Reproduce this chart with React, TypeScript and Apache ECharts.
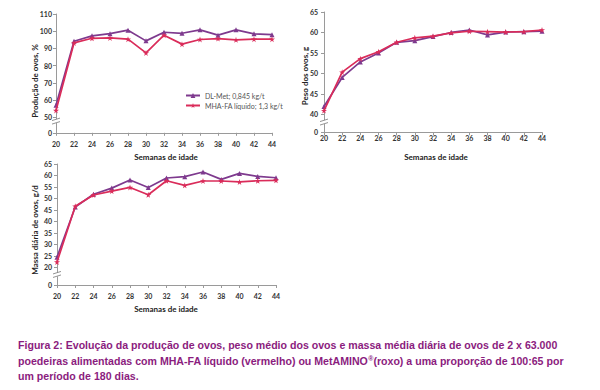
import React, { useEffect, useRef } from "react";
import * as echarts from "echarts";

const weeks = [20, 22, 24, 26, 28, 30, 32, 34, 36, 38, 40, 42, 44];
const seriesNames = ["DL-Met; 0,845 kg/t", "MHA-FA líquido; 1,3 kg/t"];

const prodDL = [57, 94.2, 97.3, 98.6, 100.6, 94.4, 99.4, 98.8, 100.8, 97.7, 100.8, 98.5, 98];
const prodMHA = [54, 93.2, 95.9, 96.1, 95.4, 87.4, 97.7, 92.5, 95.2, 95.7, 95, 95.4, 95.4];

const pesoDL = [41.9, 49.0, 52.8, 55.0, 57.6, 58.0, 59.0, 60.0, 60.6, 59.4, 60.1, 60.2, 60.3];
const pesoMHA = [40.9, 50.3, 53.6, 55.3, 57.6, 58.7, 59.1, 59.9, 60.3, 60.2, 60.1, 60.2, 60.6];

const massaDL = [24.4, 46.3, 51.8, 54.5, 58.0, 54.8, 58.9, 59.5, 61.5, 58.3, 60.9, 59.6, 59.0];
const massaMHA = [22.3, 46.6, 51.5, 53.2, 54.8, 51.6, 57.7, 55.7, 57.6, 57.6, 57.2, 57.7, 57.9];

const prodTicks = [50, 60, 70, 80, 90, 100, 110];
const pesoTicks = [40, 45, 50, 55, 60, 65];
const massaTicks = [20, 25, 30, 35, 40, 45, 50, 55, 60, 65];

const yNames = ["Produção de ovos, %", "Peso dos ovos, g", "Massa diária de ovos, g/d"];
const xName = "Semanas de idade";

const PURPLE = "#7E3A8E";
const RED = "#DA2C5A";
const FONT = "Lato";
const STAR = "path://M50,0 L61,35 L98,35 L68,57 L79,91 L50,70 L21,91 L32,57 L2,35 L39,35 Z";

export default function App() {
  const ref = useRef<HTMLDivElement>(null);
  useEffect(() => {
    if (!ref.current) return;
    const chart = echarts.init(ref.current, null, { renderer: "svg" });

    const panels = [
      { grid: { left: 56, top: 14, width: 216, height: 118.8 }, min: 41, max: 110, ticks: prodTicks, brk: 47.8, dl: prodDL, mha: prodMHA, xMargin: 8, yMargin: 4 },
      { grid: { left: 324, top: 12, width: 218, height: 120.3 }, min: 35.6, max: 65, ticks: pesoTicks, brk: 38.1, dl: pesoDL, mha: pesoMHA, xMargin: 2, yMargin: 6 },
      { grid: { left: 57, top: 164, width: 219, height: 121 }, min: 12.3, max: 65, ticks: massaTicks, brk: 16.9, dl: massaDL, mha: massaMHA, xMargin: 7, yMargin: 5 },
    ];

    const axisLine = { show: true, lineStyle: { color: "#9a9a9a", width: 1 } };
    const labelStyle = { fontFamily: FONT, fontSize: 7, fontWeight: "bold" as const, color: "#333" };

    const series: any[] = [];
    panels.forEach((p, i) => {
      series.push({
        type: "line",
        name: seriesNames[0],
        xAxisIndex: i,
        yAxisIndex: i,
        data: weeks.map((w, k) => [w, p.dl[k]]),
        symbol: "triangle",
        symbolSize: 5,
        lineStyle: { color: PURPLE, width: 1.7 },
        itemStyle: { color: PURPLE },
        z: 3,
      });
      series.push({
        type: "line",
        name: seriesNames[1],
        xAxisIndex: i,
        yAxisIndex: i,
        data: weeks.map((w, k) => [w, p.mha[k]]),
        symbol: STAR,
        symbolSize: 6,
        lineStyle: { color: RED, width: 1.7 },
        itemStyle: { color: RED },
        z: 4,
      });
      series.push({
        type: "custom",
        xAxisIndex: i,
        yAxisIndex: i,
        silent: true,
        z: 5,
        clip: false,
        data: [[weeks[0], p.brk]],
        renderItem: (params: any, api: any) => {
          const c = api.coord([api.value(0), api.value(1)]);
          return {
            type: "group",
            children: [
              { type: "rect", shape: { x: c[0] - 2, y: c[1] - 2, width: 4, height: 4 }, style: { fill: "#fff" } },
              { type: "line", shape: { x1: c[0] - 4, y1: c[1] - 0.5, x2: c[0] + 4, y2: c[1] - 3 }, style: { stroke: "#777", lineWidth: 0.8 } },
              { type: "line", shape: { x1: c[0] - 4, y1: c[1] + 3, x2: c[0] + 4, y2: c[1] + 0.5 }, style: { stroke: "#777", lineWidth: 0.8 } },
            ],
          };
        },
      });
    });

    const yTitle = (text: string, x: number, y: number) => ({
      type: "text",
      x,
      y,
      rotation: Math.PI / 2,
      style: { text, fontFamily: FONT, fontSize: 8, fontWeight: "bold", fill: "#222", align: "center", verticalAlign: "middle" },
    });
    const xTitle = (x: number, y: number) => ({
      type: "text",
      x,
      y,
      style: { text: xName, fontFamily: FONT, fontSize: 8, fontWeight: "bold", fill: "#222", align: "center", verticalAlign: "middle" },
    });
    const capFont = { fontFamily: "Liberation Sans", fontSize: 10.6, fontWeight: "bold", fill: "#8B1C7E" };

    chart.setOption({
      animation: false,
      backgroundColor: "#fff",
      legend: {
        data: seriesNames,
        orient: "vertical",
        left: 180,
        top: 87,
        itemWidth: 14,
        itemHeight: 6,
        itemGap: 3,
        textStyle: { fontFamily: FONT, fontSize: 7, color: "#555" },
      },
      grid: panels.map((p) => ({ ...p.grid, containLabel: false })),
      xAxis: panels.map((p, i) => ({
        type: "value",
        gridIndex: i,
        min: 20,
        max: 44,
        interval: 2,
        splitLine: { show: false },
        axisLine,
        axisTick: { show: true, length: 3, lineStyle: { color: "#9a9a9a" } },
        axisLabel: { ...labelStyle, margin: p.xMargin },
      })),
      yAxis: panels.map((p, i) => ({
        type: "value",
        gridIndex: i,
        min: p.min,
        max: p.max,
        splitLine: { show: false },
        axisLine,
        axisTick: { show: true, length: 3, lineStyle: { color: "#9a9a9a" }, customValues: [p.min, ...p.ticks] },
        axisLabel: {
          ...labelStyle,
          margin: p.yMargin,
          customValues: [p.min, ...p.ticks],
          formatter: (v: number) => (Math.abs(v - p.min) < 0.01 ? "0" : String(v)),
        },
      })),
      series,
      graphic: [
        yTitle(yNames[0], 35, 81),
        yTitle(yNames[1], 305, 76),
        yTitle(yNames[2], 35, 230),
        xTitle(166, 157),
        xTitle(436, 157),
        xTitle(166, 309),
        { type: "text", x: 18, y: 345, style: { ...capFont, text: "Figura 2: Evolução da produção de ovos, peso médio dos ovos e massa média diária de ovos de 2 x 63.000", verticalAlign: "middle" } },
        {
          type: "text",
          x: 18,
          y: 361,
          style: {
            ...capFont,
            verticalAlign: "middle",
            text: "poedeiras alimentadas com MHA-FA líquido (vermelho) ou MetAMINO{sup|®}(roxo) a uma proporção de 100:65 por",
            rich: { sup: { fontFamily: "Liberation Sans", fontSize: 7, fontWeight: "bold", fill: "#8B1C7E", verticalAlign: "top", padding: [0, 0, 6, 0] } },
          },
        },
        { type: "text", x: 18, y: 376, style: { ...capFont, text: "um período de 180 dias.", verticalAlign: "middle" } },
      ],
    });
    return () => chart.dispose();
  }, []);
  return <div ref={ref} style={{ position: "fixed", left: 0, top: 0, width: 600, height: 390 }} />;
}
